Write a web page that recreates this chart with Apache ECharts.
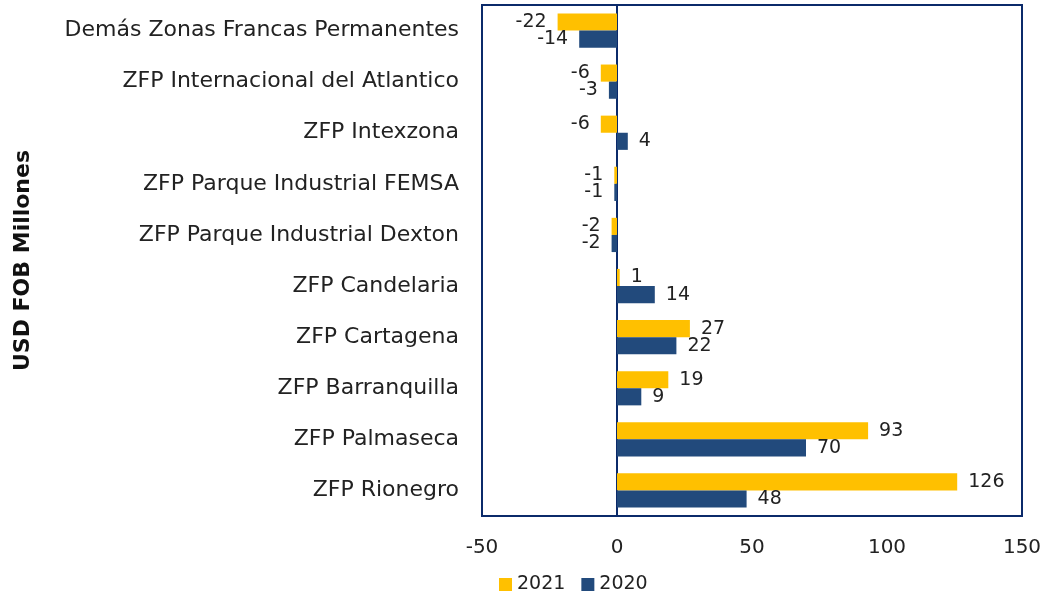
<!DOCTYPE html>
<html>
<head>
  <meta charset="utf-8">
  <title>ZFP</title>
  <script src="https://cdn.jsdelivr.net/npm/echarts@6/dist/echarts.min.js"></script>
</head>
<body style="margin:0">
  <div id="main" style="width:1047px;height:596px;"></div>
  <script type="text/javascript">
    // categories from bottom to top
    var categories = ['ZFP Rionegro', 'ZFP Palmaseca', 'ZFP Barranquilla', 'ZFP Cartagena', 'ZFP Candelaria',
      'ZFP Parque Industrial Dexton', 'ZFP Parque Industrial FEMSA', 'ZFP Intexzona',
      'ZFP Internacional del Atlantico', 'Demás Zonas Francas Permanentes'];
    var values2021 = [126, 93, 19, 27, 1, -2, -1, -6, -6, -22];
    var values2020 = [48, 70, 9, 22, 14, -2, -1, 4, -3, -14];

    var font = 'DejaVu Sans';
    var myChart = echarts.init(document.getElementById('main'));

    function barLabel(v) {
      return {
        value: v,
        label: {
          show: true,
          position: v < 0 ? 'left' : 'right',
          distance: 11,
          color: '#222',
          fontFamily: font,
          fontSize: 19
        }
      };
    }

    var option = {
      animation: false,
      textStyle: { fontFamily: font },
      grid: {
        left: 482, right: 25, top: 5, bottom: 80,
        show: true, borderColor: '#0B2A6A', borderWidth: 2
      },
      legend: {
        left: 494, top: 570,
        icon: 'rect',
        itemWidth: 13, itemHeight: 13, itemGap: 16,
        textStyle: { fontFamily: font, fontSize: 19, color: '#222' },
        data: ['2021', '2020']
      },
      xAxis: {
        type: 'value',
        min: -50, max: 150, interval: 50,
        axisLine: { show: false },
        axisTick: { show: false },
        splitLine: { show: false },
        axisLabel: { fontSize: 20, color: '#222', margin: 22, fontFamily: font }
      },
      yAxis: {
        type: 'category',
        data: categories,
        name: 'USD FOB Millones',
        nameLocation: 'middle',
        nameGap: 448,
        nameTextStyle: { fontSize: 22, fontWeight: 'bold', color: '#111', fontFamily: font },
        axisLine: { onZero: true, lineStyle: { color: '#0B2A6A', width: 2 } },
        axisTick: { show: false },
        axisLabel: { fontSize: 22, color: '#222', margin: 23, fontFamily: font }
      },
      series: [
        {
          name: '2021', type: 'bar',
          data: values2021.map(barLabel),
          itemStyle: { color: '#FFC000' },
          barGap: '0%', barCategoryGap: '33%'
        },
        {
          name: '2020', type: 'bar',
          data: values2020.map(barLabel),
          itemStyle: { color: '#224A7C' },
          barGap: '0%', barCategoryGap: '33%'
        }
      ]
    };

    myChart.setOption(option);
  </script>
</body>
</html>
